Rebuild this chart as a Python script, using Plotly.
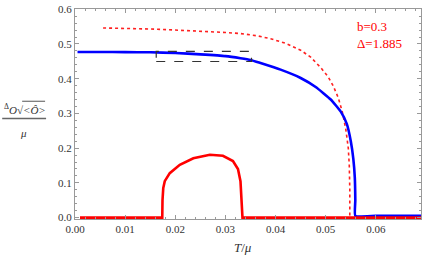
import plotly.graph_objects as go

# ---- data ----
blue_T = [0.0005, 0.005, 0.010, 0.015, 0.020, 0.025, 0.030, 0.033, 0.035, 0.037,
          0.041, 0.045, 0.048, 0.051, 0.053, 0.0542, 0.0550, 0.0555, 0.0558, 0.0559,
          0.0559, 0.0600, 0.0690]
blue_V = [0.477, 0.477, 0.4765, 0.476, 0.474, 0.470, 0.465, 0.459, 0.454, 0.445,
          0.426, 0.402, 0.376, 0.340, 0.305, 0.270, 0.220, 0.170, 0.115, 0.050,
          0.005, 0.005, 0.005]

dot_T = [0.0056, 0.010, 0.015, 0.020, 0.025, 0.030, 0.033, 0.0365, 0.039, 0.042,
         0.045, 0.047, 0.049, 0.0505, 0.0515, 0.0525, 0.0533, 0.054, 0.0545, 0.0547,
         0.0548, 0.0548]
dot_V = [0.546, 0.545, 0.543, 0.540, 0.537, 0.533, 0.530, 0.523, 0.515, 0.502,
         0.482, 0.462, 0.432, 0.405, 0.379, 0.345, 0.305, 0.255, 0.200, 0.150,
         0.080, 0.0]

red_T = [0.001, 0.0174, 0.01745, 0.0176, 0.0179, 0.0189, 0.0209, 0.0236, 0.0269,
         0.0295, 0.0315, 0.0325, 0.0330, 0.0332, 0.0334, 0.0690]
red_V = [0.0, 0.0, 0.050, 0.085, 0.105, 0.128, 0.152, 0.171, 0.181,
         0.178, 0.163, 0.140, 0.105, 0.050, 0.0, 0.0]

x_tickvals = [0.00, 0.01, 0.02, 0.03, 0.04, 0.05, 0.06]
x_ticktext = ["0.00", "0.01", "0.02", "0.03", "0.04", "0.05", "0.06"]
y_tickvals = [0.0, 0.1, 0.2, 0.3, 0.4, 0.5, 0.6]
y_ticktext = ["0.0", "0.1", "0.2", "0.3", "0.4", "0.5", "0.6"]

box_T = [0.0162, 0.0352]
box_V = [0.4495, 0.4785]

label_lines = ["b=0.3", "Δ=1.885"]

# ---- figure ----
W, H = 425, 259
L, R, T, B = 75, 3, 5, 40
pw, ph = W - L - R, H - T - B


def px(x):
    return (x - L) / pw


def py(y):
    return (H - B - y) / ph


serif = "Liberation Serif, Times New Roman, serif"
txt = "#333333"

fig = go.Figure()
fig.add_trace(go.Scatter(x=dot_T, y=dot_V, mode="lines",
                         line=dict(color="#ff2020", width=1.6, dash="dot"),
                         hoverinfo="skip"))
fig.add_trace(go.Scatter(x=blue_T, y=blue_V, mode="lines",
                         line=dict(color="#0000ff", width=2.6, shape="spline",
                                   smoothing=0.4),
                         hoverinfo="skip"))
fig.add_trace(go.Scatter(x=red_T, y=red_V, mode="lines",
                         line=dict(color="#ff0000", width=2.6),
                         hoverinfo="skip"))

fig.add_shape(type="rect", xref="x", yref="y",
              x0=box_T[0], x1=box_T[1], y0=box_V[0], y1=box_V[1],
              line=dict(color="#333333", width=1.2, dash="dash"))

axis_common = dict(showgrid=False, zeroline=False, showline=True, linecolor="#999999",
                   linewidth=1, mirror="ticks", ticks="inside", ticklen=4,
                   tickcolor="#999999", tickwidth=1, ticklabeloverflow="allow",
                   tickfont=dict(family=serif, size=11, color=txt))

fig.update_xaxes(range=[0, 0.069], tickvals=x_tickvals, ticktext=x_ticktext,
                 minor=dict(dtick=0.002, ticks="inside", ticklen=2,
                            tickcolor="#999999", showgrid=False),
                 **axis_common)
fig.update_yaxes(range=[-0.004, 0.6006], tickvals=y_tickvals, ticktext=y_ticktext,
                 minor=dict(dtick=0.02, ticks="inside", ticklen=2,
                            tickcolor="#999999", showgrid=False),
                 **axis_common)

ann = []
ann.append(dict(x=px(243), y=py(248), xref="paper", yref="paper",
                text="<i>T</i>/<i>μ</i>", showarrow=False,
                font=dict(family=serif, size=13, color=txt),
                xanchor="center", yanchor="middle"))
ann.append(dict(x=px(356), y=py(23), xref="paper", yref="paper",
                text=label_lines[0], showarrow=False,
                font=dict(family=serif, size=13, color="#ff0000"),
                xanchor="left", yanchor="middle"))
ann.append(dict(x=px(356), y=py(40), xref="paper", yref="paper",
                text=label_lines[1], showarrow=False,
                font=dict(family=serif, size=13, color="#ff0000"),
                xanchor="left", yanchor="middle"))
# y title: numerator and denominator
ann.append(dict(x=px(2), y=py(107), xref="paper", yref="paper",
                text="<sup>Δ</sup><i>O</i>√<i>&lt;Ô&gt;</i>",
                showarrow=False, font=dict(family=serif, size=11, color=txt),
                xanchor="left", yanchor="middle"))
ann.append(dict(x=px(23), y=py(131), xref="paper", yref="paper", text="<i>μ</i>",
                showarrow=False, font=dict(family=serif, size=11, color=txt),
                xanchor="center", yanchor="middle"))
fig.update_layout(annotations=ann)

fig.add_shape(type="line", xref="paper", yref="paper",
              x0=px(22), x1=px(45), y0=py(99), y1=py(99),
              line=dict(color="#555555", width=1))
fig.add_shape(type="line", xref="paper", yref="paper",
              x0=px(2), x1=px(46), y0=py(116.5), y1=py(116.5),
              line=dict(color="#666666", width=1.5))

fig.update_layout(width=W, height=H, margin=dict(l=L, r=R, t=T, b=B),
                  font=dict(family=serif, color=txt),
                  paper_bgcolor="white", plot_bgcolor="white", showlegend=False)

fig.write_html("out.html", config={"displayModeBar": False},
               post_script="document.body.style.margin='0';document.body.style.padding='0';")
